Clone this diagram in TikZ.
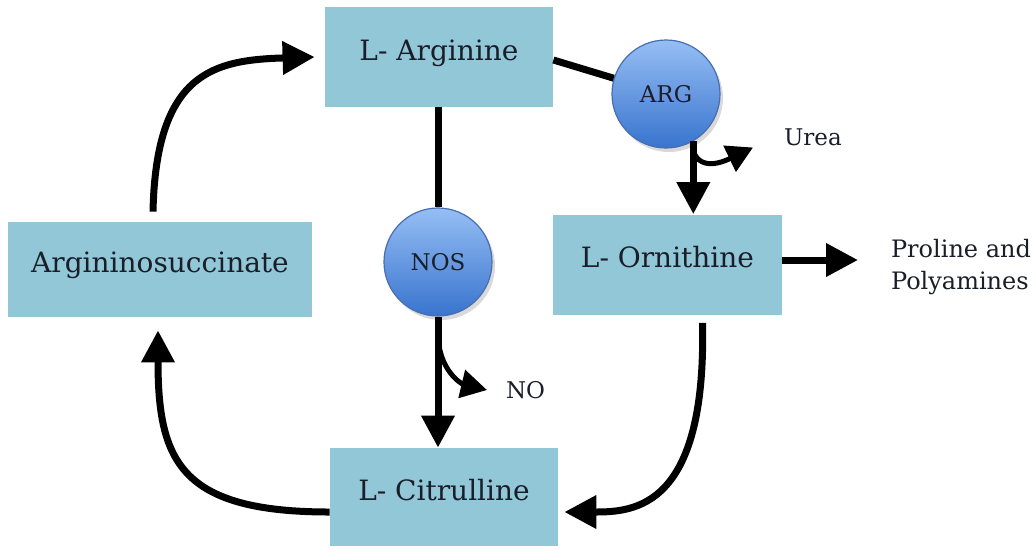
\documentclass[tikz,border=0pt]{standalone}
\usepackage{fontspec}
\setmainfont{DejaVu Serif}
\usetikzlibrary{arrows.meta, shadows}
\definecolor{boxblue}{RGB}{146,199,216}
\definecolor{enzhi}{RGB}{150,190,244}
\definecolor{enzlo}{RGB}{56,116,206}
\definecolor{enzrim}{RGB}{72,110,176}
\definecolor{inktext}{RGB}{25,30,40}

\begin{document}
\begin{tikzpicture}[x=0.5pt, y=-0.5pt, font=\fontsize{14}{17}\selectfont,
    metabolite/.style={fill=boxblue, text=inktext, inner sep=0pt, text height=10pt, text depth=7pt},
    enzyme/.style={circle, draw=enzrim, line width=0.6pt, top color=enzhi, bottom color=enzlo,
        minimum size=54pt, inner sep=0pt, text=inktext, font=\fontsize{11.5}{14}\selectfont,
        drop shadow={shadow xshift=1.5pt, shadow yshift=-2pt, opacity=0.3}},
    flow/.style={line width=3.5pt, -{Triangle[length=16pt, width=16pt]}},
    side/.style={line width=2.5pt, -{Triangle[length=13pt, width=14pt]}},
    link/.style={line width=3.5pt},
    byproduct/.style={text=inktext, font=\fontsize{11.5}{14}\selectfont}]

\path[use as bounding box] (0,0) rectangle (1034,548);

% metabolites
\node[metabolite, minimum width=114pt, minimum height=50pt] (arg) at (439,57) {L- Arginine};
\node[metabolite, minimum width=152pt, minimum height=47.5pt] (asucc) at (160,269.5) {Argininosuccinate};
\node[metabolite, minimum width=114.5pt, minimum height=50pt] (orn) at (667.5,264.5) {L- Ornithine};
\node[metabolite, minimum width=114pt, minimum height=49pt] (cit) at (444,497) {L- Citrulline};

% enzymes
\node[enzyme] (nos) at (438,262) {NOS};
\node[enzyme] (argenz) at (666,94) {ARG};

% side products
\node[byproduct, anchor=west] (no) at (499,390) {NO};
\node[byproduct, anchor=west] (urea) at (777,137.5) {Urea};
\node[byproduct, anchor=west, align=left, font=\fontsize{12}{16}\selectfont] (prol) at (884,267) {Proline and\\Polyamines};

% NOS branch
\draw[link] (arg.south -| nos.north) -- (nos.north);
\draw[flow] (nos.south) -- (nos.south |- cit.north);
\coordinate (nobranch) at ([yshift=-8pt]nos.south);
\draw[side] (nobranch) .. controls +(0,38) and +(-25,-6) .. ([xshift=-6pt]no.west);

% ARG branch
\draw[link] ([yshift=-1.5pt]arg.east) -- (argenz);
\draw[flow] (argenz.-60) -- (argenz.-60 |- orn.north);
\coordinate (ureabranch) at ([yshift=-5pt]argenz.-60);
\draw[side] (ureabranch) .. controls +(8,22) and +(-25,12) .. ([xshift=-12pt, yshift=-5pt]urea.west);

% ornithine out
\coordinate (prolin) at (858,260);
\draw[flow] (orn.east |- prolin) -- (prolin);

% cycle
\draw[flow] ([xshift=17.5pt, yshift=-4pt]orn.south) .. controls +(4,185) and +(70,0) .. ([xshift=3pt, yshift=-7.5pt]cit.east);
\draw[flow] ([yshift=-7.5pt]cit.west) .. controls +(-150,0) and +(0,130) .. ([xshift=-1pt, yshift=-6.5pt]asucc.south);
\draw[flow] ([xshift=-3.5pt, yshift=5pt]asucc.north) .. controls +(3,-140) and +(-100,3) .. ([xshift=-5pt]arg.west);
\end{tikzpicture}
\end{document}
